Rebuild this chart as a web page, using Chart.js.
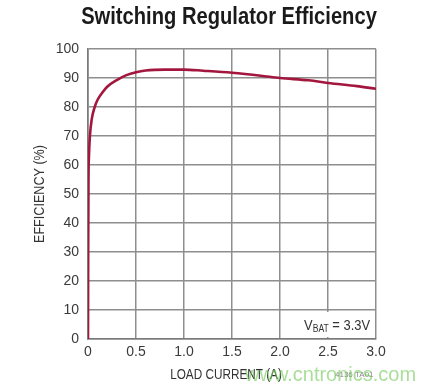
<!DOCTYPE html>
<html>
<head>
<meta charset="utf-8">
<script src="https://cdn.jsdelivr.net/npm/chart.js@4"></script>
<style>
html,body{margin:0;padding:0;background:#fff;}
#c{display:block;}
</style>
</head>
<body>
<canvas id="c" width="430" height="388"></canvas>
<script>
const loadCurrent = [0, 0.002, 0.005, 0.01, 0.02, 0.04, 0.07, 0.1, 0.15, 0.2, 0.3, 0.4, 0.5, 0.6, 0.8, 1.0, 1.2, 1.5, 1.8, 2.0, 2.3, 2.5, 2.8, 3.0];
const efficiency = [0, 30, 55, 63, 70, 76, 80, 82.5, 85, 87, 89.3, 91, 92, 92.6, 92.9, 92.9, 92.5, 91.8, 90.8, 90, 89.2, 88.3, 87.2, 86.3];
const xTickValues = [0, 0.5, 1.0, 1.5, 2.0, 2.5, 3.0];
const xTickLabels = ['0', '0.5', '1.0', '1.5', '2.0', '2.5', '3.0'];
const yTickValues = [0, 10, 20, 30, 40, 50, 60, 70, 80, 90, 100];
const yTickLabels = ['0', '10', '20', '30', '40', '50', '60', '70', '80', '90', '100'];
const chartTitle = 'Switching Regulator Efficiency';
const xAxisTitle = 'LOAD CURRENT (A)';
const yAxisTitle = 'EFFICIENCY (%)';
const noteMain = 'V';
const noteSub = 'BAT';
const noteRest = ' = 3.3V';
const figureId = '4136 TA01';
const watermark = 'www.cntronics.com';

const sans = '"Liberation Sans", Arial, sans-serif';

function narrowText(ctx, text, x, y, squeeze, rot) {
  ctx.save();
  ctx.translate(x, y);
  if (rot) ctx.rotate(rot);
  ctx.scale(squeeze, 1);
  ctx.fillText(text, 0, 0);
  ctx.restore();
}

const textPlugin = {
  id: 'texts',
  afterDraw(chart) {
    const ctx = chart.ctx;
    const a = chart.chartArea;
    const xs = chart.scales.x, ys = chart.scales.y;
    ctx.save();
    // title
    ctx.fillStyle = '#1a1a1a';
    ctx.font = 'bold 24px ' + sans;
    ctx.textAlign = 'center';
    ctx.textBaseline = 'middle';
    narrowText(ctx, chartTitle, 229, 17, 0.84, 0);

    // axis titles
    ctx.fillStyle = '#333';
    ctx.font = '14px ' + sans;
    narrowText(ctx, xAxisTitle, 226, 375, 0.84, 0);
    ctx.font = '14px ' + sans;
    narrowText(ctx, yAxisTitle, 40, (a.top + a.bottom) / 2, 0.9, -Math.PI / 2);

    // V_BAT note with white box
    const y0 = ys.getPixelForValue(0), y10 = ys.getPixelForValue(10);
    const xr = xs.getPixelForValue(3.0);
    ctx.fillStyle = '#fff';
    ctx.fillRect(xr - 86, y10 + 2, 85, y0 - y10 - 4);
    ctx.fillStyle = '#333';
    ctx.textBaseline = 'alphabetic';
    ctx.textAlign = 'left';
    const base = (y0 + y10) / 2 + 5;
    const sq = 0.86;
    ctx.font = '15px ' + sans;
    const wV = ctx.measureText(noteMain).width * sq;
    ctx.font = '10px ' + sans;
    const wS = ctx.measureText(noteSub).width * sq;
    ctx.font = '15px ' + sans;
    const wR = ctx.measureText(noteRest).width * sq;
    let x = xr - 6 - (wV + wS + wR);
    narrowText(ctx, noteMain, x, base, sq, 0);
    x += wV;
    ctx.font = '10px ' + sans;
    narrowText(ctx, noteSub, x, base + 2, sq, 0);
    x += wS;
    ctx.font = '15px ' + sans;
    narrowText(ctx, noteRest, x, base, sq, 0);

    // figure id
    ctx.font = '8px ' + sans;
    ctx.fillStyle = '#888';
    ctx.fillText(figureId, 335, 377);

    // watermark
    ctx.font = '20px ' + sans;
    ctx.fillStyle = 'rgba(110,200,85,0.6)';
    ctx.fillText(watermark, 245, 381);
    ctx.restore();
  }
};

new Chart(document.getElementById('c'), {
  type: 'line',
  data: {
    datasets: [{
      data: loadCurrent.map((v, i) => ({x: v, y: efficiency[i]})),
      borderColor: '#a3173f',
      borderWidth: 2.6,
      pointRadius: 0,
      cubicInterpolationMode: 'monotone',
      fill: false
    }]
  },
  options: {
    responsive: false,
    devicePixelRatio: 1,
    animation: false,
    layout: {padding: {top: 49, left: 0, right: 54, bottom: 0}},
    plugins: {legend: {display: false}, title: {display: false}, tooltip: {enabled: false}},
    scales: {
      x: {
        type: 'linear', min: 0, max: 3,
        afterBuildTicks(s) { s.ticks = xTickValues.map(v => ({value: v})); },
        afterFit(s) { s.height = 49; },
        ticks: {
          padding: 5, color: '#3a3a3a', maxRotation: 0,
          font: {family: sans, size: 14},
          callback(v) { const i = xTickValues.indexOf(v); return i >= 0 ? xTickLabels[i] : ''; }
        },
        grid: {color: '#8e8e8e', lineWidth: 1.5, drawTicks: false},
        border: {color: '#7a7a7a', width: 1.6},
        title: {display: false}
      },
      y: {
        type: 'linear', min: 0, max: 100,
        afterBuildTicks(s) { s.ticks = yTickValues.map(v => ({value: v})); },
        afterFit(s) { s.width = 88; },
        ticks: {
          padding: 9, color: '#3a3a3a',
          font: {family: sans, size: 14},
          callback(v) { const i = yTickValues.indexOf(v); return i >= 0 ? yTickLabels[i] : ''; }
        },
        grid: {color: '#8e8e8e', lineWidth: 1.5, drawTicks: false},
        border: {color: '#7a7a7a', width: 1.6},
        title: {display: false}
      }
    }
  },
  plugins: [textPlugin]
});
</script>
</body>
</html>
